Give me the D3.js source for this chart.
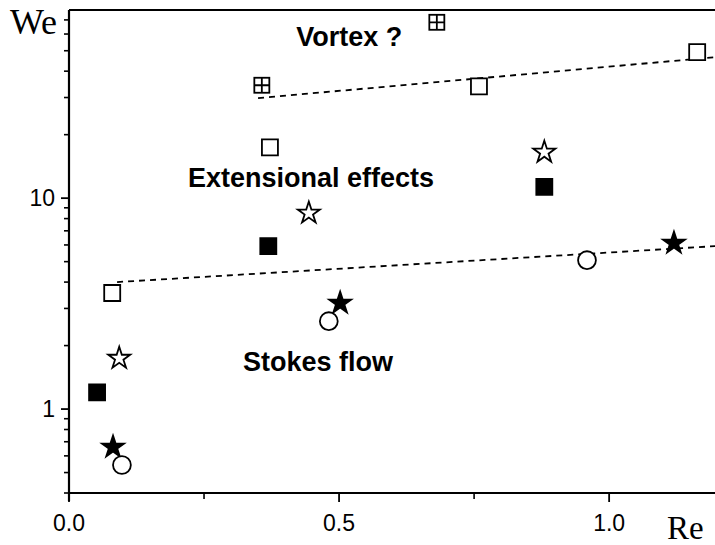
<!DOCTYPE html>
<html><head><meta charset="utf-8">
<script src="https://cdn.jsdelivr.net/npm/d3@7"></script>
<style>body{margin:0;background:#fff}svg{display:block}</style>
</head><body>
<svg id="c" width="715" height="545"></svg>
<script>
// Data (Re, We)
const openSquares   = [[0.080,3.55],[0.372,17.4],[0.759,33.9],[1.163,49.2]];
const filledSquares = [[0.052,1.20],[0.369,5.92],[0.880,11.3]];
const openStars     = [[0.093,1.74],[0.444,8.49],[0.880,16.5]];
const filledStars   = [[0.0815,0.66],[0.502,3.18],[1.120,6.12]];
const openCircles   = [[0.098,0.543],[0.481,2.61],[0.959,5.08]];
const crossSquares  = [[0.357,34.3],[0.681,68.2]];
const lowerLine = [[0.089,4.0],[1.2,5.93]];
const upperLine = [[0.35,29.8],[1.2,46.7]];
const xMajor = [0, 0.5, 1.0];
const xMajorLabels = ["0.0","0.5","1.0"];
const xMinor = [0.25, 0.75];
const yMajor = [1, 10];
const yMinor = [0.4,0.5,0.6,0.7,0.8,0.9,2,3,4,5,6,7,8,9,20,30,40,50,60,70];
const labels = [
  {t:"Vortex ?", x:0.519, y:52.5},
  {t:"Extensional effects", x:0.448, y:11.3},
  {t:"Stokes flow", x:0.461, y:1.51}
];

const svg = d3.select("#c");
const x = d3.scaleLinear().domain([0, 1.196]).range([69, 715]);
const y = d3.scaleLog().domain([0.4, 78]).range([493, 10]);

// frame
svg.append("line").attr("x1",69).attr("x2",715).attr("y1",y(78)).attr("y2",y(78))
  .attr("stroke","#000").attr("stroke-width",1.8);
svg.append("line").attr("x1",69).attr("x2",69).attr("y1",y(78)).attr("y2",y(0.4)+8)
  .attr("stroke","#000").attr("stroke-width",2.2);
svg.append("line").attr("x1",69).attr("x2",715).attr("y1",y(0.4)).attr("y2",y(0.4))
  .attr("stroke","#000").attr("stroke-width",2);

// y ticks
const gy = svg.append("g");
gy.selectAll(".ymaj").data(yMajor).join("line")
  .attr("x1",61).attr("x2",69).attr("y1",d=>y(d)).attr("y2",d=>y(d))
  .attr("stroke","#000").attr("stroke-width",1.8);
gy.selectAll(".ymin").data(yMinor).join("line")
  .attr("x1",64).attr("x2",69).attr("y1",d=>y(d)).attr("y2",d=>y(d))
  .attr("stroke","#000").attr("stroke-width",1.6);
gy.selectAll("text").data(yMajor).join("text")
  .attr("x",55).attr("y",d=>y(d)+8).attr("text-anchor","end")
  .attr("font-family","Liberation Sans, Arial, sans-serif").attr("font-size",23)
  .text(d=>d);

// x ticks
const gx = svg.append("g");
gx.selectAll(".xmaj").data(xMajor).join("line")
  .attr("x1",d=>x(d)).attr("x2",d=>x(d)).attr("y1",y(0.4)).attr("y2",y(0.4)+9)
  .attr("stroke","#000").attr("stroke-width",1.8);
gx.selectAll(".xmin").data(xMinor).join("line")
  .attr("x1",d=>x(d)).attr("x2",d=>x(d)).attr("y1",y(0.4)).attr("y2",y(0.4)+6)
  .attr("stroke","#000").attr("stroke-width",1.6);
gx.selectAll("text").data(xMajor).join("text")
  .attr("x",d=>x(d)).attr("y",531).attr("text-anchor","middle")
  .attr("font-family","Liberation Sans, Arial, sans-serif").attr("font-size",23)
  .text((d,i)=>xMajorLabels[i]);

// axis titles
svg.append("text").attr("x",10).attr("y",34).attr("font-family","Liberation Serif, Times New Roman, serif")
  .attr("font-size",36).text("We");
svg.append("text").attr("x",667).attr("y",539).attr("font-family","Liberation Serif, Times New Roman, serif")
  .attr("font-size",33).text("Re");

// dashed lines
const line = d3.line().x(d=>x(d[0])).y(d=>y(d[1]));
[lowerLine, upperLine].forEach(l=>{
  svg.append("path").attr("d",line(l)).attr("fill","none").attr("stroke","#000")
    .attr("stroke-width",1.8).attr("stroke-dasharray","6,5");
});

// region labels
svg.selectAll(".lab").data(labels).join("text")
  .attr("x",d=>x(d.x)).attr("y",d=>y(d.y)).attr("text-anchor","middle")
  .attr("font-family","Liberation Sans, Arial, sans-serif").attr("font-weight","bold")
  .attr("font-size",27).text(d=>d.t);

// markers
const sq = d3.symbol().type(d3.symbolSquare).size(256);
const st = d3.symbol().type(d3.symbolStar).size(150);
const ci = d3.symbol().type(d3.symbolCircle).size(250);
function pts(data, gen, fill){
  svg.append("g").selectAll("path").data(data).join("path")
    .attr("transform",d=>`translate(${x(d[0])},${y(d[1])})`)
    .attr("d",gen()).attr("fill",fill).attr("stroke","#000").attr("stroke-width",1.8);
}
pts(openSquares, sq, "#fff");
pts(filledSquares, sq, "#000");
pts(openStars, st, "#fff");
pts(filledStars, st, "#000");
pts(openCircles, ci, "#fff");
const cg = svg.append("g").selectAll("g").data(crossSquares).join("g")
  .attr("transform",d=>`translate(${x(d[0])},${y(d[1])})`);
cg.append("rect").attr("x",-7.5).attr("y",-7.5).attr("width",15).attr("height",15)
  .attr("fill","#fff").attr("stroke","#000").attr("stroke-width",1.8);
cg.append("path").attr("d","M-7.5,0H7.5M0,-7.5V7.5").attr("stroke","#000").attr("stroke-width",1.8);
</script>
</body></html>
